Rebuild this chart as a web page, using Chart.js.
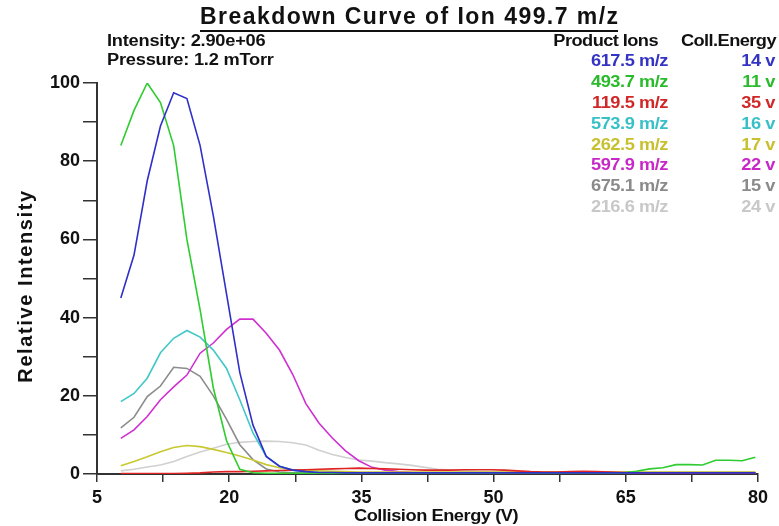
<!DOCTYPE html>
<html>
<head>
<meta charset="utf-8">
<script src="https://cdn.jsdelivr.net/npm/chart.js@4/dist/chart.umd.min.js"></script>
<style>
  html, body { margin: 0; padding: 0; background: #fff; }
  #wrap { width: 779px; height: 526px; }
</style>
</head>
<body>
<div id="wrap"><canvas id="chart" width="779" height="526"></canvas></div>
<script>
'use strict';

// Collision energies (V) of each scan step
const energies = [
  7.7, 9.2, 10.7, 12.2, 13.7, 15.2, 16.7, 18.2, 19.7, 21.2,
  22.7, 24.2, 25.7, 27.2, 28.7, 30.2, 31.7, 33.2, 34.7, 36.2,
  37.7, 39.2, 40.7, 42.2, 43.7, 45.2, 46.7, 48.2, 49.7, 51.2,
  52.7, 54.2, 55.7, 57.2, 58.7, 60.2, 61.7, 63.2, 64.7, 66.2,
  67.7, 69.2, 70.7, 72.2, 73.7, 75.2, 76.7, 78.2, 79.7,
];

// Product ions and their optimum collision energies
const productIons = ['617.5 m/z', '493.7 m/z', '119.5 m/z', '573.9 m/z', '262.5 m/z', '597.9 m/z', '675.1 m/z', '216.6 m/z'];
const optimumEnergies = ['14 v', '11 v', '35 v', '16 v', '17 v', '22 v', '15 v', '24 v'];
const lineColors = ['#3030c8', '#2ecc2e', '#e02424', '#40c8c8', '#c8c830', '#d030d0', '#8c8c8c', '#d0d0d0'];
const textColors = ['#3434c4', '#2abb2a', '#d02828', '#38c0c8', '#c8c030', '#c828c8', '#8a8a8a', '#c8c8c8'];

// Relative intensity (%) per ion, one value per energy step
const ion617 = [
  45, 56, 75, 89, 97.5, 96, 84, 66, 46, 26,
  12.5, 4.5, 2, 1, 0.6, 0.4, 0.4, 0.3, 0.3, 0.3,
  0.3, 0.3, 0.3, 0.3, 0.3, 0.3, 0.3, 0.3, 0.3, 0.3,
  0.3, 0.3, 0.3, 0.3, 0.3, 0.3, 0.3, 0.3, 0.3, 0.3,
  0.3, 0.3, 0.3, 0.3, 0.3, 0.3, 0.3, 0.3, 0.3,
];
const ion493 = [
  84, 93, 100, 95, 84, 60, 42, 22, 8.5, 1.2,
  0.3, 0.2, 0.2, 0.2, 0.2, 0.2, 0.2, 0.2, 0.2, 0.2,
  0.2, 0.2, 0.2, 0.2, 0.2, 0.2, 0.2, 0.2, 0.2, 0.2,
  0.2, 0.2, 0.2, 0.2, 0.2, 0.2, 0.2, 0.2, 0.3, 0.7,
  1.3, 1.6, 2.4, 2.4, 2.3, 3.5, 3.5, 3.4, 4.3,
];
const ion119 = [
  0.1, 0.1, 0.1, 0.1, 0.1, 0.2, 0.3, 0.5, 0.6, 0.6,
  0.7, 0.8, 0.9, 1.0, 1.1, 1.2, 1.3, 1.4, 1.5, 1.4,
  1.3, 1.2, 1.1, 1.0, 1.0, 1.0, 1.1, 1.1, 1.1, 1.0,
  0.8, 0.6, 0.5, 0.5, 0.6, 0.7, 0.6, 0.5, 0.4, 0.3,
  0.3, 0.3, 0.3, 0.3, 0.3, 0.3, 0.3, 0.3, 0.3,
];
const ion573 = [
  18.5, 20.6, 24.5, 31, 34.7, 36.7, 35, 31.7, 27, 19,
  10.5, 4.5, 2, 1, 0.6, 0.4, 0.3, 0.3, 0.3, 0.3,
  0.3, 0.3, 0.3, 0.3, 0.3, 0.3, 0.3, 0.3, 0.3, 0.3,
  0.3, 0.3, 0.3, 0.3, 0.3, 0.3, 0.3, 0.3, 0.3, 0.3,
  0.3, 0.3, 0.3, 0.3, 0.3, 0.3, 0.3, 0.3, 0.3,
];
const ion262 = [
  2.1, 3.2, 4.4, 5.7, 6.8, 7.3, 7.0, 6.3, 5.5, 4.6,
  3.6, 2.4, 1.6, 1.1, 0.9, 0.8, 0.7, 0.6, 0.5, 0.5,
  0.5, 0.5, 0.5, 0.5, 0.5, 0.5, 0.5, 0.5, 0.5, 0.5,
  0.5, 0.5, 0.5, 0.5, 0.5, 0.5, 0.5, 0.5, 0.5, 0.5,
  0.5, 0.5, 0.5, 0.5, 0.5, 0.5, 0.5, 0.5, 0.5,
];
const ion597 = [
  9.1, 11.3, 14.7, 19, 22.3, 25.3, 30.9, 33.5, 37, 39.6,
  39.6, 36, 31.7, 25.5, 18, 13, 9.2, 5.9, 3.4, 1.7,
  1.0, 0.6, 0.4, 0.3, 0.3, 0.3, 0.3, 0.3, 0.3, 0.3,
  0.3, 0.3, 0.3, 0.3, 0.3, 0.3, 0.3, 0.3, 0.3, 0.3,
  0.3, 0.3, 0.3, 0.3, 0.3, 0.3, 0.3, 0.3, 0.3,
];
const ion675 = [
  11.8, 14.5, 19.8, 22.5, 27.3, 27, 25, 20, 14, 7.5,
  3.7, 1.3, 0.5, 0.3, 0.3, 0.3, 0.3, 0.3, 0.3, 0.3,
  0.3, 0.3, 0.3, 0.3, 0.3, 0.3, 0.3, 0.3, 0.3, 0.3,
  0.3, 0.3, 0.3, 0.3, 0.3, 0.3, 0.3, 0.3, 0.3, 0.3,
  0.3, 0.3, 0.3, 0.3, 0.3, 0.3, 0.3, 0.3, 0.3,
];
const ion216 = [
  0.8, 1.2, 1.8, 2.3, 3.2, 4.5, 5.6, 6.6, 7.6, 8.1,
  8.3, 8.4, 8.3, 8.0, 7.4, 6.1, 5.0, 4.2, 3.6, 3.3,
  2.9, 2.6, 2.2, 1.7, 1.2, 1.0, 0.8, 0.6, 0.5, 0.5,
  0.5, 0.5, 0.5, 0.5, 0.5, 0.5, 0.5, 0.5, 0.5, 0.5,
  0.5, 0.5, 0.5, 0.5, 0.5, 0.5, 0.5, 0.5, 0.5,
];
const ionSeries = [ion617, ion493, ion119, ion573, ion262, ion597, ion675, ion216];

// Axis ticks: every tick is drawn, only some carry a label
const xTicks = [5, 12.5, 20, 27.5, 35, 42.5, 50, 57.5, 65, 72.5, 80];
const xLabels = [5, 20, 35, 50, 65, 80];
const yTicks = [0, 10, 20, 30, 40, 50, 60, 70, 80, 90, 100];
const yLabels = [0, 20, 40, 60, 80, 100];

const chartTitle = 'Breakdown Curve of Ion 499.7 m/z';
const infoLines = ['Intensity: 2.90e+06', 'Pressure: 1.2 mTorr'];
const legendHeaders = ['Product Ions', 'Coll.Energy'];
const xTitle = 'Collision Energy (V)';
const yTitle = 'Relative Intensity';

const FONT = '"Liberation Sans", Arial, sans-serif';
const axisColor = '#333333';

// Text with optional letter spacing and horizontal stretch
const drawText = (ctx, text, x, y, font, color, align, spacing, stretch) => {
  ctx.save();
  ctx.translate(x, y);
  ctx.scale(stretch || 1, 1);
  ctx.font = font;
  ctx.fillStyle = color;
  ctx.textAlign = align || 'left';
  ctx.textBaseline = 'middle';
  ctx.letterSpacing = spacing || '0px';
  ctx.fillText(text, 0, 0);
  ctx.restore();
};

// Title, run info, ion table and axis titles
const annotations = {
  id: 'annotations',
  afterDraw(chart) {
    const { ctx } = chart;

    const titleFont = `bold 23px ${FONT}`;
    ctx.save();
    ctx.font = titleFont;
    const plain = ctx.measureText(chartTitle).width;
    const spacing = (418 - plain) / (chartTitle.length - 1);
    ctx.restore();
    drawText(ctx, chartTitle, 200, 18, titleFont, '#111', 'left', `${spacing}px`);
    ctx.save();
    ctx.fillStyle = '#111';
    ctx.fillRect(200, 30, 418, 2);
    ctx.restore();

    const small = `bold 16px ${FONT}`;
    const wide = 1.14;
    drawText(ctx, infoLines[0], 107, 42, small, '#111', 'left', '-0.2px', wide);
    drawText(ctx, infoLines[1], 107, 61, small, '#111', 'left', '-0.2px', wide);

    drawText(ctx, legendHeaders[0], 658, 42, small, '#111', 'right', '-0.5px', wide);
    drawText(ctx, legendHeaders[1], 776, 42, small, '#111', 'right', '-0.5px', wide);
    productIons.forEach((ion, i) => {
      const y = 62 + i * 20.8;
      drawText(ctx, ion, 668, y, small, textColors[i], 'right', '-0.4px', wide);
      drawText(ctx, optimumEnergies[i], 775, y, small, textColors[i], 'right', '-0.4px', wide);
    });

    drawText(ctx, xTitle, 436, 517, small, '#111', 'center', '-0.4px', wide);

    ctx.save();
    ctx.translate(26, 286);
    ctx.rotate(-Math.PI / 2);
    drawText(ctx, yTitle, 0, 0, `bold 20px ${FONT}`, '#111', 'center', '1.6px');
    ctx.restore();
  },
};

const datasets = productIons.map((ion, i) => ({
  label: ion,
  data: energies.map((e, k) => ({ x: e, y: ionSeries[i][k] })),
  borderColor: lineColors[i],
  backgroundColor: lineColors[i],
  borderWidth: 1.6,
  pointRadius: 0,
  tension: 0,
  fill: false,
}));

new Chart(document.getElementById('chart'), {
  type: 'line',
  data: { datasets },
  plugins: [annotations],
  options: {
    responsive: false,
    animation: false,
    devicePixelRatio: 1,
    layout: { padding: { top: 83, right: 21, left: 0, bottom: 0 } },
    plugins: {
      legend: { display: false },
      tooltip: { enabled: false },
    },
    scales: {
      x: {
        type: 'linear',
        min: 5,
        max: 80,
        afterBuildTicks: scale => {
          scale.ticks = xTicks.map(value => ({ value }));
        },
        afterFit: scale => {
          scale.height = 52;
        },
        ticks: {
          autoSkip: false,
          maxRotation: 0,
          padding: 5,
          color: '#111',
          font: { family: FONT, size: 18, weight: 'bold' },
          callback: value => (xLabels.includes(value) ? String(value) : ''),
        },
        grid: { drawOnChartArea: false, tickLength: 8, color: axisColor, lineWidth: 1.5 },
        border: { color: axisColor, width: 2 },
      },
      y: {
        min: 0,
        max: 100,
        afterBuildTicks: scale => {
          scale.ticks = yTicks.map(value => ({ value }));
        },
        afterFit: scale => {
          scale.width = 97;
        },
        ticks: {
          autoSkip: false,
          padding: 3,
          color: '#111',
          font: { family: FONT, size: 18, weight: 'bold' },
          callback: value => (yLabels.includes(value) ? String(value) : ''),
        },
        grid: { drawOnChartArea: false, tickLength: 14, color: axisColor, lineWidth: 1.5 },
        border: { color: axisColor, width: 2 },
      },
    },
  },
});
</script>
</body>
</html>
